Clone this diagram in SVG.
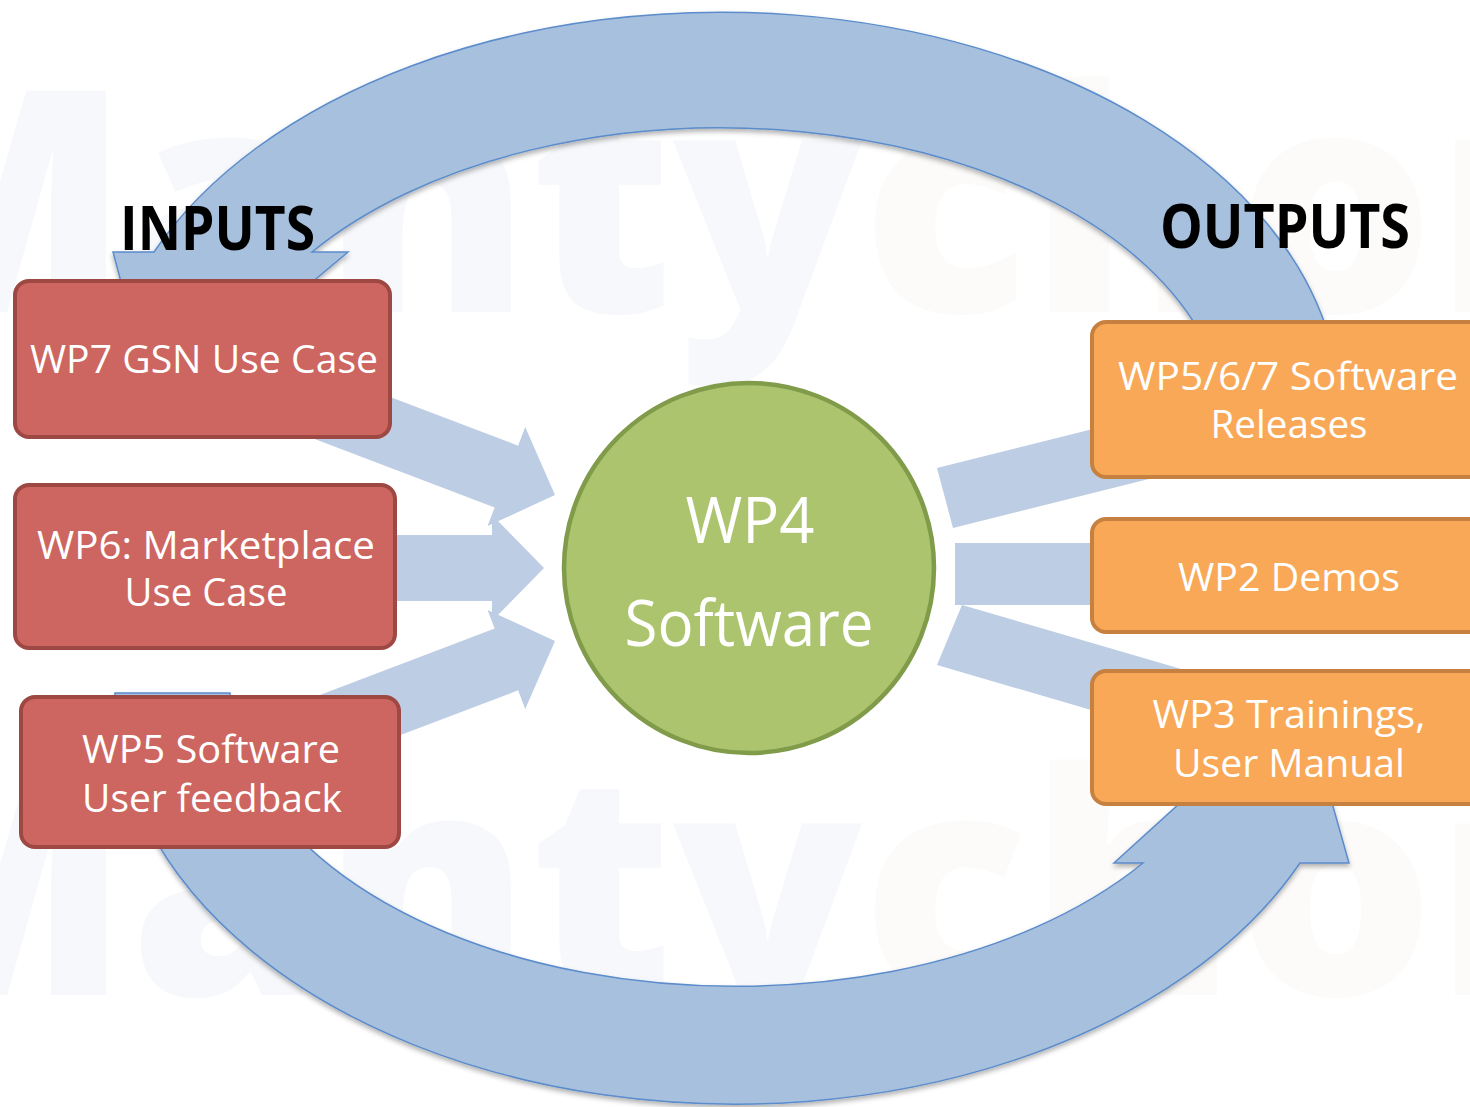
<svg xmlns="http://www.w3.org/2000/svg" xmlns:xlink="http://www.w3.org/1999/xlink" width="1470" height="1107" viewBox="0 0 1470 1107">
  <defs>
    <style>
      .wm { font-family: "Open Sans", "Liberation Sans", sans-serif; font-weight: 800; font-size: 310px; }
      .wm .b { fill: #f6f8fb; }
      .wm .o { fill: #fcfbf9; }
      .arc { fill: #a7c0de; stroke: #5b8ccb; stroke-width: 1.5; filter: url(#shade); }
      .flow { fill: #bccde4; }
      .in rect { fill: #cd6660; stroke: #9d4843; stroke-width: 4; }
      .out rect { fill: #f9a857; stroke: #c6803f; stroke-width: 4; }
      .hub circle { fill: #abc46d; stroke: #809b4a; stroke-width: 4.5; }
      .lbl { font-family: "Open Sans", "Liberation Sans", sans-serif; font-size: 38px; fill: #ffffff; text-anchor: middle; }
      .big { font-size: 64px; }
      .head { font-family: "Open Sans", "Liberation Sans", sans-serif; font-weight: 700; font-size: 60px; fill: #000000; }
    </style>
    <filter id="shade" x="-5%" y="-5%" width="110%" height="115%">
      <feDropShadow dx="0" dy="3" stdDeviation="2.5" flood-color="#000000" flood-opacity="0.3"/>
    </filter>
    <!-- straight block arrow pointing +x, tip at origin -->
    <path id="inArrow" d="M-260,-33 H-52 V-53 L0,0 L-52,53 V33 H-260 Z"/>
  </defs>

  <rect width="1470" height="1107" fill="#ffffff"/>

  <!-- faint background logo text -->
  <g class="wm">
    <text x="-170" y="312"><tspan class="b">Manty</tspan><tspan class="o">chore</tspan></text>
    <text x="-170" y="995"><tspan class="b">Manty</tspan><tspan class="o">chore</tspan></text>
  </g>

  <g id="connectors">
    <!-- feedback loop: outputs back to inputs (over the top) -->
    <path class="arc" d="M1330,340 A619,400 0 0 0 154,252 L113,252 L156,413 L348,252 L312,252 A505,300 0 0 1 1204,340 Z"/>
    <!-- loop from user feedback round to outputs (under the bottom) -->
    <path class="arc" d="M115,693 A620,410 0 0 0 1300,863 L1349,863 L1301,693 L1114,863 L1143,863 A505,300 0 0 1 230,693 Z"/>

    <!-- inputs into WP4 -->
    <use class="flow" xlink:href="#inArrow" transform="translate(555,495) rotate(20.8)"/>
    <use class="flow" xlink:href="#inArrow" transform="translate(544,568)"/>
    <use class="flow" xlink:href="#inArrow" transform="translate(555,641) rotate(-20.8)"/>

    <!-- WP4 out to the deliverables -->
    <polygon class="flow" points="937,468 1189,405 1205,465 953,528"/>
    <rect class="flow" x="955" y="543" width="180" height="62"/>
    <polygon class="flow" points="962,605 1212,678 1187,738 937,665"/>
  </g>

  <text class="head" x="120" y="250" textLength="195" lengthAdjust="spacingAndGlyphs">INPUTS</text>
  <text class="head" x="1160" y="248" textLength="250" lengthAdjust="spacingAndGlyphs">OUTPUTS</text>

  <g id="wp7" class="in">
    <rect x="15" y="281" width="375" height="156" rx="14"/>
    <text class="lbl" x="204" y="373" textLength="348" lengthAdjust="spacingAndGlyphs">WP7 GSN Use Case</text>
  </g>
  <g id="wp6" class="in">
    <rect x="15" y="485" width="380" height="163" rx="14"/>
    <text class="lbl" x="206" y="559" textLength="338" lengthAdjust="spacingAndGlyphs">WP6: Marketplace</text>
    <text class="lbl" x="206" y="606" textLength="163" lengthAdjust="spacingAndGlyphs">Use Case</text>
  </g>
  <g id="wp5" class="in">
    <rect x="21" y="697" width="378" height="150" rx="14"/>
    <text class="lbl" x="211" y="763" textLength="258" lengthAdjust="spacingAndGlyphs">WP5 Software</text>
    <text class="lbl" x="212" y="812" textLength="260" lengthAdjust="spacingAndGlyphs">User feedback</text>
  </g>

  <g id="wp4" class="hub">
    <circle cx="749" cy="568" r="185"/>
    <text class="lbl big" x="750" y="543" textLength="129" lengthAdjust="spacingAndGlyphs">WP4</text>
    <text class="lbl big" x="749" y="646" textLength="249" lengthAdjust="spacingAndGlyphs">Software</text>
  </g>

  <g id="releases" class="out">
    <rect x="1092" y="322" width="400" height="155" rx="14"/>
    <text class="lbl" x="1288" y="390" textLength="340" lengthAdjust="spacingAndGlyphs">WP5/6/7 Software</text>
    <text class="lbl" x="1289" y="438" textLength="157" lengthAdjust="spacingAndGlyphs">Releases</text>
  </g>
  <g id="wp2" class="out">
    <rect x="1092" y="519" width="400" height="113" rx="14"/>
    <text class="lbl" x="1289" y="591" textLength="222" lengthAdjust="spacingAndGlyphs">WP2 Demos</text>
  </g>
  <g id="wp3" class="out">
    <rect x="1092" y="671" width="400" height="133" rx="14"/>
    <text class="lbl" x="1289" y="728" textLength="273" lengthAdjust="spacingAndGlyphs">WP3 Trainings,</text>
    <text class="lbl" x="1289" y="777" textLength="232" lengthAdjust="spacingAndGlyphs">User Manual</text>
  </g>
</svg>
